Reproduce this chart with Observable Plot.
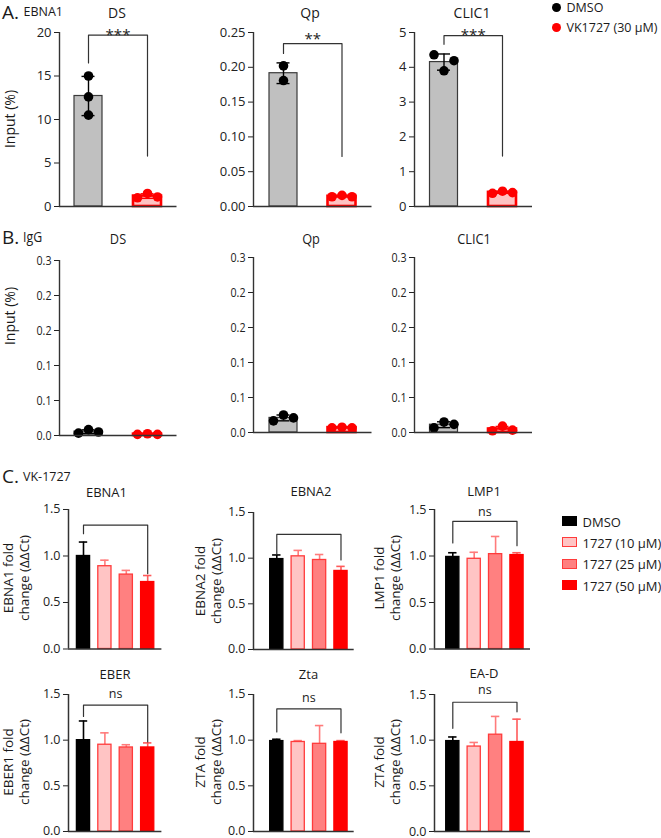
<!DOCTYPE html>
<html>
<head>
<meta charset="utf-8">
<script src="https://cdn.jsdelivr.net/npm/d3@7"></script>
<script src="https://cdn.jsdelivr.net/npm/@observablehq/plot@0.6"></script>
<style>
  html,body{margin:0;padding:0;background:#fff;}
  #fig{position:relative;width:661px;height:838px;overflow:hidden;font-family:"Open Sans",sans-serif;color:#1a1a1a;}
  .t{position:absolute;white-space:pre;line-height:1;}
  .c{transform:translate(-50%,-50%);}
  .l{transform:translate(0,-50%);}
  .cn{transform:translate(-50%,-50%) scaleX(0.88);}
  .ln{transform:translate(0,-50%) scaleX(0.88);transform-origin:0 50%;}
  .r{transform:translate(-50%,-50%) rotate(-90deg);text-align:center;line-height:1.2;}
  .sw{position:absolute;box-sizing:border-box;}
</style>
</head>
<body>
<div id="fig"></div>
<script>
// ================= DATA =================
// Panel A (EBNA1 ChIP) and B (IgG) : groups and targets
const groupsAB = ["DMSO", "VK1727 (30 μM)"];
const targetsAB = ["DS", "Qp", "CLIC1"];
// replicate values, [DMSO, VK1727]
const A_DS = [[15.0, 12.6, 10.5], [1.0, 1.5, 1.1]];
const A_Qp = [[0.202, 0.181], [0.014, 0.016, 0.014]];
const A_CLIC1 = [[4.36, 3.90, 4.19], [0.38, 0.44, 0.40]];
const A_yMax = [20, 0.25, 5];
const A_ticks = [[0, 5, 10, 15, 20], [0, 0.05, 0.10, 0.15, 0.20, 0.25], [0, 1, 2, 3, 4, 5]];
const A_tickFmt = ["d", ".2f", "d"];
const A_sig = ["***", "**", "***"];
// bracket: [left leg end, top, right leg end]
const A_bracket = [[16.5, 19.7, 5.8], [0.220, 0.234, 0.072], [4.66, 4.91, 1.45]];

const B_DS = [[0.004, 0.010, 0.006], [0.002, 0.003, 0.002]];
const B_Qp = [[0.020, 0.030, 0.025], [0.008, 0.009, 0.008]];
const B_CLIC1 = [[0.008, 0.018, 0.014], [0.003, 0.011, 0.004]];
const B_yMax = 0.3;
const B_ticks = [0, 0.06, 0.12, 0.18, 0.24, 0.30];

// Panel C (VK-1727 RT-qPCR)
const C_conditions = ["DMSO", "1727 (10 μM)", "1727 (25 μM)", "1727 (50 μM)"];
const C_genes = ["EBNA1", "EBNA2", "LMP1", "EBER", "Zta", "EA-D"];
const C_ylabels = ["EBNA1 fold", "EBNA2 fold", "LMP1 fold", "EBER1 fold", "ZTA fold", "ZTA fold"];
const C_sig = ["", "", "ns", "ns", "ns", "ns"];
const C_EBNA1 = [1.00, 0.89, 0.80, 0.72];
const C_EBNA1_sd = [0.15, 0.065, 0.045, 0.07];
const C_EBNA2 = [0.99, 1.02, 0.98, 0.86];
const C_EBNA2_sd = [0.045, 0.065, 0.06, 0.05];
const C_LMP1 = [0.99, 0.97, 1.02, 1.01];
const C_LMP1_sd = [0.045, 0.07, 0.19, 0.025];
const C_EBER = [1.00, 0.95, 0.92, 0.92];
const C_EBER_sd = [0.21, 0.13, 0.03, 0.05];
const C_Zta = [0.99, 0.98, 0.96, 0.98];
const C_Zta_sd = [0.02, 0.015, 0.20, 0.015];
const C_EAD = [0.99, 0.93, 1.06, 0.98];
const C_EAD_sd = [0.045, 0.045, 0.20, 0.25];
const C_ticks = [0, 0.5, 1.0, 1.5];
const C_yMax = 1.5;
// bracket: [left leg end, top, right leg end]
const C_bracket = [[1.24, 1.333, 0.81], [1.04, 1.26, 0.98], [1.14, 1.373, 1.11],
                   [1.26, 1.384, 0.98], [1.09, 1.342, 1.08], [1.13, 1.415, 1.31]];

// ================= LAYOUT / STYLE =================
const fig = document.getElementById("fig");
const AX = "#333";
const colAB = [
  {axis: 58.5, c0: 87.5, step: 59, end: 176},
  {axis: 252.5, c0: 282.5, step: 58.5, end: 371},
  {axis: 414, c0: 443.5, step: 58.5, end: 532}
];
const rowA = {top: 31.5, zero: 205.5};
const rowB = [{top: 259.7, zero: 434.7}, {top: 257.3, zero: 432.3}, {top: 257.3, zero: 432.3}];
const colC = [{axis: 68.3, c0: 83.3, end: 161.7}, {axis: 253.3, c0: 276.6, end: 354}, {axis: 434, c0: 452.3, end: 530}];
const stepC = 21.4;
const rowC = [{top: 508.5, zero: 648}, {top: 693.5, zero: 830.5}];
const ML = 50, MR = 12, MT = 40, MB = 5;

function txt(s, x, y, size, cls, extra) {
  const d = document.createElement("div");
  d.className = "t " + cls;
  d.textContent = s;
  d.style.left = x + "px"; d.style.top = y + "px"; d.style.fontSize = size + "px";
  if (extra) Object.assign(d.style, extra);
  fig.appendChild(d);
  return d;
}
function put(svg, left, top) {
  svg.style.position = "absolute";
  svg.style.left = left + "px";
  svg.style.top = top + "px";
  svg.style.overflow = "visible";
  svg.style.background = "none";
  svg.style.maxWidth = "none";
  fig.appendChild(svg);
  return svg;
}
function condense(svg, f) {
  svg.querySelectorAll("text").forEach(t => {
    const w = t.getComputedTextLength();
    if (w > 0) { t.setAttribute("textLength", (w * f).toFixed(2)); t.setAttribute("lengthAdjust", "spacingAndGlyphs"); }
  });
}

function chartAB(reps, o) {
  const {col, row, yMax, ticks, fmt, spread, bracket, sig, sigDy} = o;
  const s = col.step;
  const xDom = [(col.axis - col.c0) / s, (col.end - col.c0) / s];
  const hw = 14 / s, cap = 6.5 / s, jit = 10 / s;
  const stats = reps.map((v, g) => ({g, mean: d3.mean(v), sd: v.length > 1 ? d3.deviation(v) : 0}));
  const fills = ["#c0c0c0", "#ffc2c2"], strokes = ["#3a3a3a", "#ff0000"], sw = [1.2, 2.6], dotc = ["#000000", "#ff0000"];
  const marks = [];
  stats.forEach(st => {
    marks.push(Plot.rect([st], {x1: d => d.g - hw, x2: d => d.g + hw, y1: d => 0, y2: "mean",
      fill: fills[st.g], stroke: strokes[st.g], strokeWidth: sw[st.g]}));
    marks.push(Plot.ruleX([st], {x: "g", y1: d => d.mean - d.sd, y2: d => d.mean + d.sd, stroke: dotc[st.g], strokeWidth: 1.4}));
    marks.push(Plot.ruleY([st], {x1: d => d.g - cap, x2: d => d.g + cap, y: d => d.mean + d.sd, stroke: dotc[st.g], strokeWidth: 1.4}));
    marks.push(Plot.ruleY([st], {x1: d => d.g - cap, x2: d => d.g + cap, y: d => d.mean - d.sd, stroke: dotc[st.g], strokeWidth: 1.4}));
  });
  reps.forEach((v, g) => {
    const pts = v.map((y, r) => ({x: g + (spread[g] ? (r - (v.length - 1) / 2) * jit : 0), y}));
    marks.push(Plot.dot(pts, {x: "x", y: "y", r: 4.8, fill: dotc[g], stroke: "none"}));
  });
  marks.push(Plot.ruleY([0], {stroke: AX, strokeWidth: 1.4}));
  marks.push(Plot.ruleX([xDom[0]], {stroke: AX, strokeWidth: 1.4}));
  if (bracket) {
    marks.push(Plot.line([{x: 0, y: bracket[0]}, {x: 0, y: bracket[1]}, {x: 1, y: bracket[1]}, {x: 1, y: bracket[2]}],
      {x: "x", y: "y", stroke: AX, strokeWidth: 1.2}));
    marks.push(Plot.text([{x: 0.5, y: bracket[1], t: sig}], {x: "x", y: "y", text: "t", dy: sigDy, fontSize: 15, lineAnchor: "middle", fill: "#222"}));
  }
  const w = col.end - col.axis, h = row.zero - row.top;
  const svg = Plot.plot({
    width: ML + w + MR, height: MT + h + MB,
    marginLeft: ML, marginRight: MR, marginTop: MT, marginBottom: MB,
    x: {domain: xDom, axis: null},
    y: {domain: [0, yMax], ticks, tickFormat: fmt, tickSize: 5, tickPadding: 3, label: null},
    style: {fontFamily: '"Open Sans", sans-serif', fontSize: "13px", color: "#222", background: "none"},
    marks
  });
  return put(svg, col.axis - ML, row.top - MT);
}

function chartC(mean, sd, o) {
  const {col, row, bracket, sig, sigDy} = o;
  const s = stepC;
  const xDom = [(col.axis - col.c0) / s, (col.end - col.c0) / s];
  const hw = 6.6 / s, cap = 4.2 / s;
  const fillC = ["#000000", "#ffc4c4", "#ff8080", "#ff0000"];
  const strokeC = ["#000000", "#ff3b3b", "#ff3b3b", "#ff0000"];
  const errC = ["#000000", "#ff7b7b", "#ff7b7b", "#ff5a5a"];
  const marks = [];
  mean.forEach((m, i) => {
    const r = {i, m, e: m + sd[i]};
    marks.push(Plot.ruleX([r], {x: "i", y1: "m", y2: "e", stroke: errC[i], strokeWidth: 1.6}));
    marks.push(Plot.ruleY([r], {x1: d => d.i - cap, x2: d => d.i + cap, y: "e", stroke: errC[i], strokeWidth: 1.6}));
    marks.push(Plot.rect([r], {x1: d => d.i - hw, x2: d => d.i + hw, y1: d => 0, y2: "m", fill: fillC[i], stroke: strokeC[i], strokeWidth: 1.3}));
  });
  marks.push(Plot.ruleY([0], {stroke: AX, strokeWidth: 1.5}));
  marks.push(Plot.ruleX([xDom[0]], {stroke: AX, strokeWidth: 1.5}));
  marks.push(Plot.line([{x: 0, y: bracket[0]}, {x: 0, y: bracket[1]}, {x: 3, y: bracket[1]}, {x: 3, y: bracket[2]}],
    {x: "x", y: "y", stroke: AX, strokeWidth: 1.2}));
  if (sig) marks.push(Plot.text([{x: 1.5, y: bracket[1], t: sig}], {x: "x", y: "y", text: "t", dy: sigDy, fontSize: 12.5, lineAnchor: "middle", fill: "#222"}));
  const w = col.end - col.axis, h = row.zero - row.top;
  const svg = Plot.plot({
    width: ML + w + MR, height: MT + h + MB,
    marginLeft: ML, marginRight: MR, marginTop: MT, marginBottom: MB,
    x: {domain: xDom, axis: null},
    y: {domain: [0, C_yMax], ticks: C_ticks, tickFormat: ".1f", tickSize: 5, tickPadding: 3, label: null},
    style: {fontFamily: '"Open Sans", sans-serif', fontSize: "12.5px", color: "#222", background: "none"},
    marks
  });
  return put(svg, col.axis - ML, row.top - MT);
}

// ================= PANEL A =================
txt("A.", 2, 12, 19, "l");
txt("EBNA1", 23.5, 12, 12.5, "l");
txt("Input (%)", 10, 119, 14, "r");
const titleAX = [117, 310, 472];
targetsAB.forEach((t, k) => txt(t, titleAX[k], 12.5, 14, "c"));
const A_reps = [A_DS, A_Qp, A_CLIC1];
const A_spread = [[false, true], [false, true], [true, true]];
const A_sigDy = [0.5, -4, 0];
A_reps.forEach((reps, k) => chartAB(reps, {
  col: colAB[k], row: rowA, yMax: A_yMax[k], ticks: A_ticks[k], fmt: A_tickFmt[k],
  spread: A_spread[k], bracket: A_bracket[k], sig: A_sig[k], sigDy: A_sigDy[k]
}));
// legend A
const legA = [{lab: groupsAB[0], c: "#000"}, {lab: groupsAB[1], c: "#ff0000"}];
legA.forEach((g, i) => {
  const y = 7.8 + i * 20;
  const d = document.createElement("div");
  d.className = "sw";
  Object.assign(d.style, {left: "552px", top: (y - 4.6) + "px", width: "9.2px", height: "9.2px", borderRadius: "50%", background: g.c});
  fig.appendChild(d);
  txt(g.lab, 566.5, y + 0.5, 12.5, "l");
});

// ================= PANEL B =================
txt("B.", 2, 236.7, 19, "l");
txt("IgG", 23, 237, 14, "ln");
txt("Input (%)", 10, 316, 14, "r");
const titleBX = [117.5, 310.5, 473.5];
targetsAB.forEach((t, k) => txt(t, titleBX[k], 239.3, 14.5, "cn"));
const B_reps = [B_DS, B_Qp, B_CLIC1];
B_reps.forEach((reps, k) => {
  const svg = chartAB(reps, {
    col: colAB[k], row: rowB[k], yMax: B_yMax, ticks: B_ticks, fmt: ".1f",
    spread: [true, true], bracket: null
  });
  condense(svg, 0.82);
});

// ================= PANEL C =================
txt("C.", 2, 476, 19, "l");
txt("VK-1727", 23, 477, 12.5, "l");
const C_means = [C_EBNA1, C_EBNA2, C_LMP1, C_EBER, C_Zta, C_EAD];
const C_sds = [C_EBNA1_sd, C_EBNA2_sd, C_LMP1_sd, C_EBER_sd, C_Zta_sd, C_EAD_sd];
const C_titlePos = [[106.5, 491.5], [311, 491], [484, 490.7], [115, 673.5], [308.5, 673.5], [484, 673]];
const C_labX = [16, 208, 386.5];
const C_sigDy = [0, 0, -9, -11.5, -10.5, -12];
C_genes.forEach((g, k) => {
  const ci = k % 3, ri = Math.floor(k / 3);
  const row = (k === 1) ? {top: 512, zero: 649} : rowC[ri];
  chartC(C_means[k], C_sds[k], {col: colC[ci], row, bracket: C_bracket[k], sig: C_sig[k], sigDy: C_sigDy[k]});
  txt(g, C_titlePos[k][0], C_titlePos[k][1], 13, "c");
  txt(C_ylabels[k] + "\nchange (ΔΔCt)", C_labX[ci], (row.top + row.zero) / 2, 13.5, "r");
});
// legend C
const legFill = ["#000000", "#ffc4c4", "#ff8080", "#ff0000"];
const legStroke = ["#000000", "#ff3b3b", "#ff3b3b", "#ff0000"];
C_conditions.forEach((c, i) => {
  const y = 521 + i * 21.4;
  const d = document.createElement("div");
  d.className = "sw";
  Object.assign(d.style, {left: "561.5px", top: (y - 5) + "px", width: "15px", height: "10px",
    background: legFill[i], border: "1.3px solid " + legStroke[i]});
  fig.appendChild(d);
  txt(c, 582.5, y + 0.5, 13, "l");
});
</script>
</body>
</html>
